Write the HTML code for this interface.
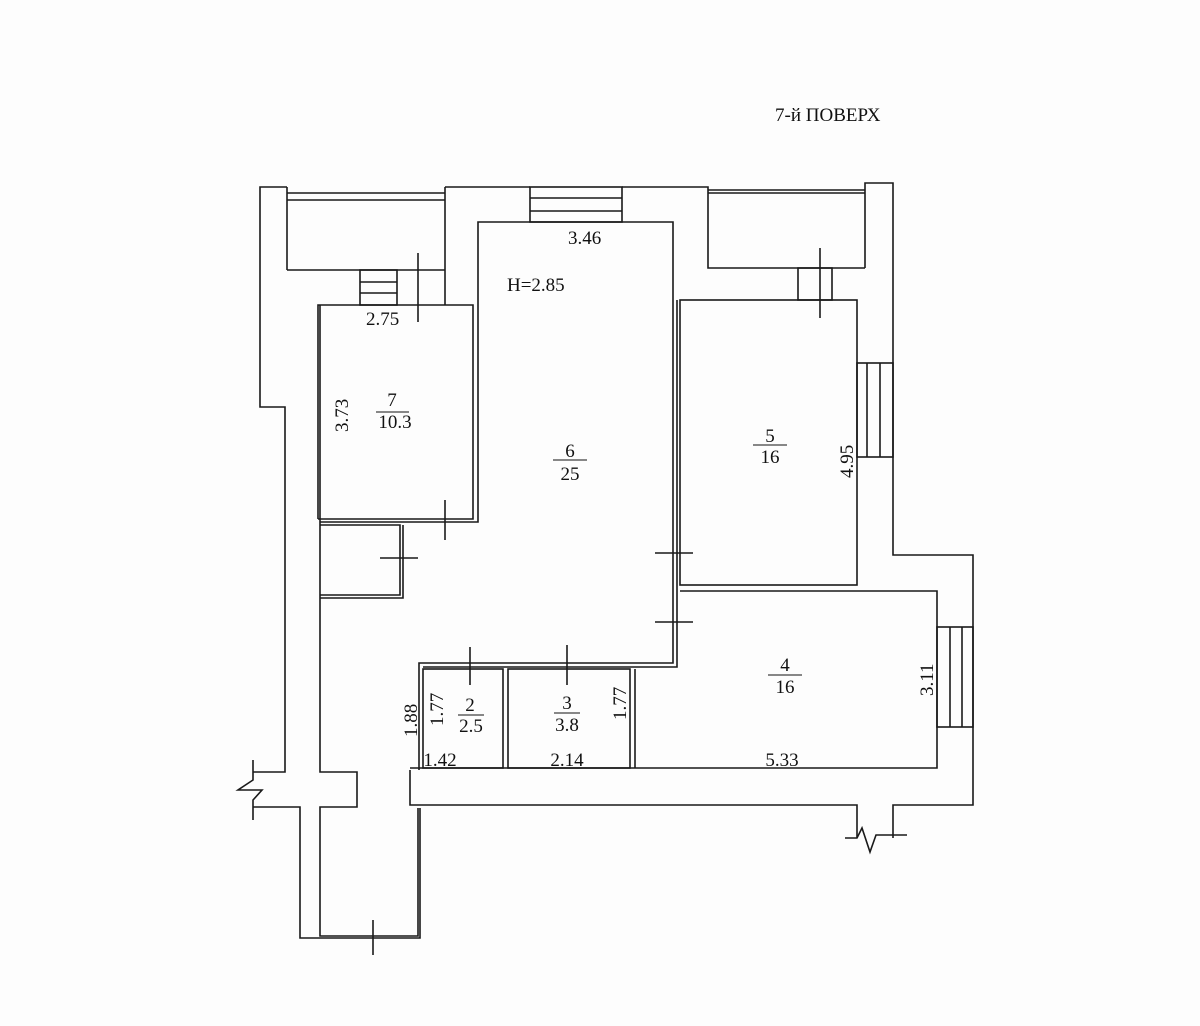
<!DOCTYPE html>
<html><head><meta charset="utf-8"><style>
html,body{margin:0;padding:0;background:#fdfdfd;}
svg{display:block;}
text{font-family:"Liberation Serif",serif;fill:#111;font-size:19px;}
</style></head><body>
<svg width="1200" height="1026" viewBox="0 0 1200 1026" xmlns="http://www.w3.org/2000/svg">
<rect width="1200" height="1026" fill="#fdfdfd"/>
<g fill="none" stroke="#1a1a1a" stroke-width="1.6">
<polyline points="287,187 260,187 260,407 285,407 285,772 253,772"/>
<polyline points="253,807 300,807 300,938 420,938 420,808"/>
<polyline points="253,760 253,780 238,790 262,790 253,800 253,820"/>
<polyline points="320,305 320,772 357,772 357,807 320,807 320,936 418,936 418,808"/>
<line x1="373" y1="920" x2="373" y2="955"/>
<line x1="287" y1="187" x2="287" y2="270"/>
<line x1="287" y1="193" x2="445" y2="193"/>
<line x1="287" y1="200" x2="445" y2="200"/>
<polyline points="287,270 445,270"/>
<line x1="445" y1="187" x2="445" y2="305"/>
<line x1="445" y1="187" x2="530" y2="187"/>
<rect x="360" y="270" width="37" height="35"/>
<line x1="360" y1="282" x2="397" y2="282"/>
<line x1="360" y1="293" x2="397" y2="293"/>
<line x1="418" y1="253" x2="418" y2="322"/>
<polyline points="318,519 318,305 473,305 473,519 318,519"/>
<polyline points="478,305 478,522 320,522"/>
<line x1="445" y1="500" x2="445" y2="540"/>
<polyline points="320,525 400,525 400,595 320,595"/>
<polyline points="403,525 403,598 320,598"/>
<line x1="380" y1="558" x2="418" y2="558"/>
<polyline points="478,305 478,222 673,222 673,663 419,663 419,770"/>
<polyline points="677,300 677,667 423,667"/>
<rect x="530" y="187" width="92" height="35"/>
<line x1="530" y1="198" x2="622" y2="198"/>
<line x1="530" y1="211" x2="622" y2="211"/>
<line x1="655" y1="553" x2="693" y2="553"/>
<line x1="655" y1="622" x2="693" y2="622"/>
<line x1="470" y1="647" x2="470" y2="685"/>
<line x1="567" y1="645" x2="567" y2="685"/>
<polyline points="622,187 708,187 708,268 865,268"/>
<line x1="708" y1="190" x2="865" y2="190"/>
<line x1="708" y1="193" x2="865" y2="193"/>
<polyline points="865,268 865,183 893,183 893,555 973,555 973,805 893,805 893,838"/>
<polyline points="857,838 857,805 410,805 410,770"/>
<polyline points="845,838 857,838 862,828 870,852 876,835 907,835"/>
<rect x="798" y="268" width="34" height="32"/>
<line x1="820" y1="248" x2="820" y2="318"/>
<rect x="680" y="300" width="177" height="285"/>
<rect x="857" y="363" width="36" height="94"/>
<line x1="867" y1="363" x2="867" y2="457"/>
<line x1="880" y1="363" x2="880" y2="457"/>
<polyline points="680,591 937,591 937,768 410,768"/>
<rect x="937" y="627" width="36" height="100"/>
<line x1="950" y1="627" x2="950" y2="727"/>
<line x1="962" y1="627" x2="962" y2="727"/>
<rect x="423" y="669" width="80" height="99"/>
<rect x="508" y="669" width="122" height="99"/>
<line x1="635" y1="669" x2="635" y2="768"/>
</g>
<text x="775" y="121" font-size="19">7-й ПОВЕРХ</text>
<text x="568" y="244">3.46</text>
<text x="507" y="291">H=2.85</text>
<text x="366" y="325">2.75</text>
<text transform="translate(348,432) rotate(-90)">3.73</text>
<text x="392" y="406" text-anchor="middle">7</text>
<line x1="376" y1="412" x2="409" y2="412" stroke="#111"/>
<text x="395" y="428" text-anchor="middle">10.3</text>
<text x="570" y="457" text-anchor="middle">6</text>
<line x1="553" y1="460" x2="587" y2="460" stroke="#111"/>
<text x="570" y="480" text-anchor="middle">25</text>
<text x="770" y="442" text-anchor="middle">5</text>
<line x1="753" y1="445" x2="787" y2="445" stroke="#111"/>
<text x="770" y="463" text-anchor="middle">16</text>
<text transform="translate(853,478) rotate(-90)">4.95</text>
<text x="785" y="671" text-anchor="middle">4</text>
<line x1="768" y1="675" x2="802" y2="675" stroke="#111"/>
<text x="785" y="693" text-anchor="middle">16</text>
<text transform="translate(933,696) rotate(-90)">3.11</text>
<text x="782" y="766" text-anchor="middle">5.33</text>
<text x="470" y="711" text-anchor="middle">2</text>
<line x1="458" y1="715" x2="484" y2="715" stroke="#111"/>
<text x="471" y="732" text-anchor="middle">2.5</text>
<text x="567" y="709" text-anchor="middle">3</text>
<line x1="554" y1="713" x2="580" y2="713" stroke="#111"/>
<text x="567" y="731" text-anchor="middle">3.8</text>
<text x="440" y="766" text-anchor="middle">1.42</text>
<text x="567" y="766" text-anchor="middle">2.14</text>
<text transform="translate(417,737) rotate(-90)">1.88</text>
<text transform="translate(443,726) rotate(-90)">1.77</text>
<text transform="translate(626,720) rotate(-90)">1.77</text>
</svg>
</body></html>
